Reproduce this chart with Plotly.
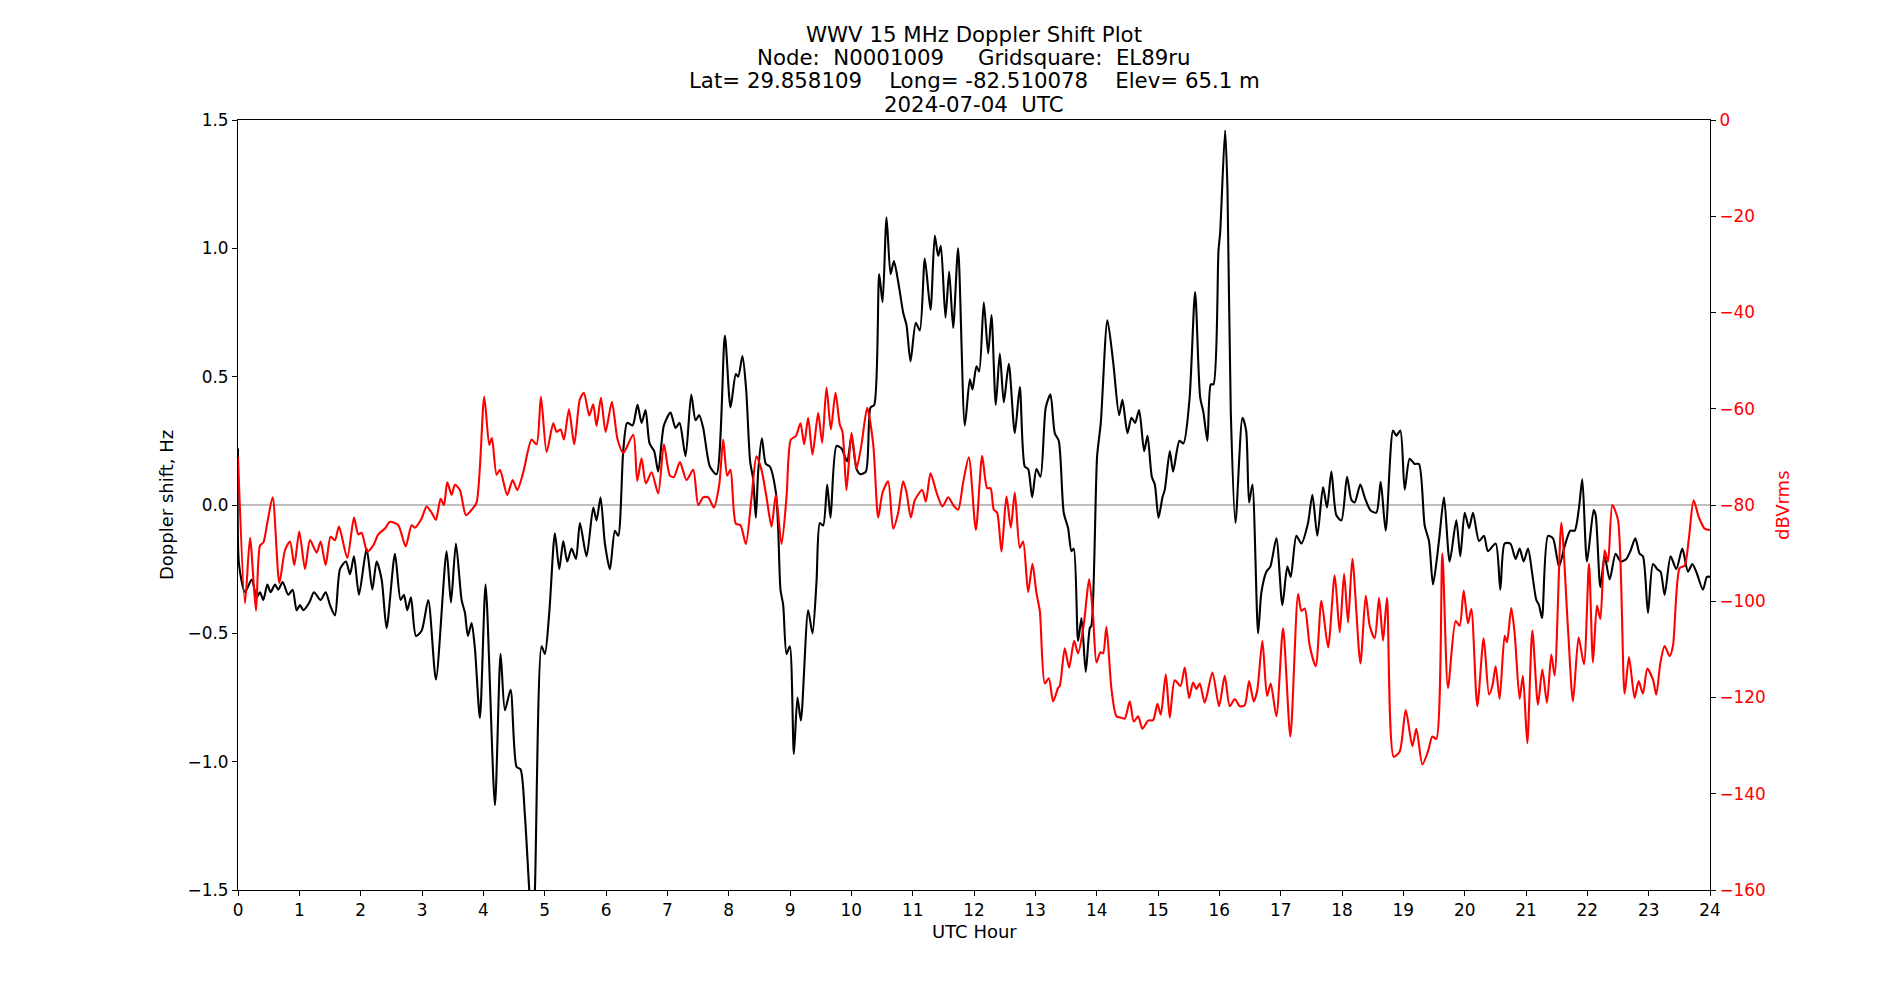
import plotly.graph_objects as go

# ---------------- data ----------------
doppler_hours = [0, 0.016, 0.114, 0.223, 0.304, 0.359, 0.413, 0.478, 0.532, 0.603, 0.657, 0.728, 0.820, 0.891,
                 0.956, 1.011, 1.065, 1.163, 1.239, 1.347, 1.429, 1.500, 1.581, 1.663, 1.760, 1.826, 1.891, 1.972,
                 2.097, 2.190, 2.260, 2.342, 2.423, 2.559, 2.651, 2.706, 2.760, 2.820, 2.901, 2.994, 3.102, 3.227,
                 3.401, 3.472, 3.553, 3.646, 3.700, 3.749, 3.809, 3.863, 3.944, 4.037, 4.189, 4.281, 4.352, 4.444,
                 4.542, 4.607, 4.678, 4.749, 4.803, 4.841, 4.950, 5.004, 5.075, 5.167, 5.238, 5.303, 5.368, 5.439,
                 5.510, 5.575, 5.683, 5.792, 5.846, 5.911, 5.982, 6.064, 6.145, 6.199, 6.281, 6.346, 6.433, 6.514,
                 6.580, 6.645, 6.710, 6.786, 6.851, 6.944, 7.052, 7.134, 7.199, 7.297, 7.390, 7.460, 7.520, 7.585,
                 7.694, 7.802, 7.938, 8.030, 8.117, 8.155, 8.225, 8.285, 8.350, 8.400, 8.443, 8.481, 8.541, 8.606,
                 8.671, 8.769, 8.807, 8.845, 8.889, 8.943, 8.997, 9.063, 9.122, 9.177, 9.296, 9.367, 9.432, 9.487,
                 9.541, 9.606, 9.661, 9.758, 9.840, 9.932, 10.003, 10.085, 10.150, 10.237, 10.313, 10.373, 10.454,
                 10.509, 10.574, 10.640, 10.694, 10.764, 10.845, 10.900, 10.965, 11.051, 11.117, 11.198, 11.291,
                 11.361, 11.416, 11.459, 11.535, 11.595, 11.660, 11.741, 11.850, 11.932, 11.975, 12.040, 12.084,
                 12.160, 12.231, 12.285, 12.355, 12.421, 12.486, 12.567, 12.665, 12.747, 12.828, 12.883, 12.948,
                 13.018, 13.084, 13.170, 13.246, 13.317, 13.382, 13.463, 13.534, 13.589, 13.627, 13.697, 13.752,
                 13.822, 13.888, 13.915, 14.007, 14.067, 14.175, 14.268, 14.366, 14.420, 14.502, 14.567, 14.627,
                 14.692, 14.774, 14.829, 14.899, 14.948, 15.008, 15.073, 15.111, 15.193, 15.246, 15.350, 15.415,
                 15.513, 15.605, 15.687, 15.741, 15.806, 15.861, 15.904, 15.986, 16.013, 16.094, 16.133, 16.187,
                 16.263, 16.377, 16.437, 16.485, 16.539, 16.632, 16.686, 16.767, 16.832, 16.930, 17.028, 17.109,
                 17.164, 17.256, 17.338, 17.446, 17.517, 17.598, 17.691, 17.756, 17.827, 17.908, 17.990, 18.082,
                 18.153, 18.207, 18.299, 18.370, 18.462, 18.560, 18.631, 18.712, 18.832, 18.886, 18.951, 19.022,
                 19.103, 19.185, 19.255, 19.348, 19.418, 19.484, 19.581, 19.663, 19.755, 19.864, 19.929, 20.000,
                 20.071, 20.136, 20.234, 20.315, 20.380, 20.505, 20.581, 20.652, 20.744, 20.831, 20.896, 20.962,
                 21.033, 21.103, 21.168, 21.212, 21.261, 21.358, 21.440, 21.538, 21.630, 21.723, 21.793, 21.864,
                 21.918, 21.994, 22.103, 22.136, 22.212, 22.282, 22.364, 22.461, 22.543, 22.636, 22.701, 22.782,
                 22.853, 22.907, 22.989, 23.070, 23.141, 23.195, 23.260, 23.358, 23.451, 23.548, 23.641, 23.711,
                 23.776, 23.885, 23.950, 24.0]
doppler_hz = [0.22, -0.23, -0.34, -0.29, -0.36, -0.34, -0.37, -0.31, -0.34, -0.31, -0.33, -0.30, -0.35, -0.33,
              -0.41, -0.39, -0.41, -0.38, -0.34, -0.37, -0.34, -0.39, -0.43, -0.25, -0.22, -0.27, -0.20, -0.35,
              -0.17, -0.33, -0.22, -0.29, -0.48, -0.19, -0.37, -0.35, -0.41, -0.36, -0.51, -0.49, -0.37, -0.68,
              -0.18, -0.38, -0.15, -0.37, -0.42, -0.51, -0.46, -0.56, -0.83, -0.31, -1.17, -0.58, -0.80, -0.72,
              -1.02, -1.03, -1.21, -1.50, -1.68, -1.50, -0.55, -0.58, -0.42, -0.11, -0.25, -0.14, -0.22, -0.17,
              -0.21, -0.07, -0.20, -0.01, -0.06, 0.03, -0.15, -0.25, -0.10, -0.12, 0.21, 0.32, 0.31, 0.39,
              0.32, 0.37, 0.24, 0.21, 0.13, 0.31, 0.36, 0.30, 0.32, 0.19, 0.43, 0.33, 0.35, 0.30,
              0.15, 0.12, 0.66, 0.38, 0.51, 0.50, 0.58, 0.45, 0.17, 0.10, -0.05, 0.13, 0.26, 0.16,
              0.15, 0.05, -0.09, -0.33, -0.39, -0.58, -0.55, -0.97, -0.75, -0.84, -0.41, -0.50, -0.30, -0.07,
              -0.08, 0.08, -0.05, 0.23, 0.22, 0.17, 0.27, 0.14, 0.12, 0.13, 0.38, 0.39, 0.90,
              0.79, 1.12, 0.90, 0.95, 0.87, 0.75, 0.70, 0.56, 0.71, 0.68, 0.96, 0.76,
              1.05, 0.97, 1.01, 0.73, 0.91, 0.69, 1.00, 0.31, 0.49, 0.45, 0.54, 0.52,
              0.79, 0.59, 0.74, 0.39, 0.59, 0.40, 0.55, 0.28, 0.46, 0.15, 0.14, 0.03,
              0.14, 0.11, 0.38, 0.43, 0.28, 0.25, -0.03, -0.09, -0.18, -0.17, -0.53, -0.44,
              -0.65, -0.48, -0.47, 0.19, 0.32, 0.72, 0.56, 0.35, 0.41, 0.28, 0.34, 0.32,
              0.37, 0.21, 0.27, 0.11, 0.08, -0.05, 0.03, 0.06, 0.21, 0.13, 0.25, 0.24,
              0.41, 0.83, 0.42, 0.36, 0.25, 0.47, 0.47, 0.99, 1.06, 1.46, 1.23, 0.36,
              -0.07, 0.34, 0.29, 0.01, 0.08, -0.50, -0.34, -0.26, -0.24, -0.13, -0.39, -0.24,
              -0.28, -0.12, -0.15, -0.07, 0.04, -0.12, 0.07, -0.01, 0.13, -0.04, -0.06, 0.11,
              0.02, 0.01, 0.08, 0.03, -0.02, -0.03, 0.09, -0.10, 0.29, 0.27, 0.29, 0.06,
              0.18, 0.16, 0.16, -0.08, -0.14, -0.31, -0.14, 0.03, -0.22, -0.06, -0.20, -0.03,
              -0.09, -0.03, -0.14, -0.12, -0.18, -0.15, -0.33, -0.15, -0.15, -0.21, -0.17, -0.22,
              -0.17, -0.27, -0.37, -0.39, -0.44, -0.12, -0.13, -0.24, -0.16, -0.10, -0.10, -0.01,
              0.10, -0.22, -0.02, -0.04, -0.32, -0.20, -0.29, -0.19, -0.22, -0.21, -0.18, -0.13,
              -0.19, -0.20, -0.42, -0.23, -0.25, -0.26, -0.35, -0.20, -0.25, -0.17, -0.26, -0.23,
              -0.26, -0.33, -0.28, -0.28]

power_hours = [0, 0.114, 0.196, 0.293, 0.359, 0.413, 0.478, 0.565, 0.674, 0.766, 0.848, 0.918, 0.999, 1.092,
               1.174, 1.282, 1.347, 1.429, 1.510, 1.581, 1.646, 1.782, 1.891, 1.961, 2.016, 2.108, 2.206, 2.287,
               2.396, 2.478, 2.613, 2.733, 2.831, 2.885, 2.994, 3.075, 3.157, 3.227, 3.303, 3.358, 3.412, 3.483,
               3.537, 3.618, 3.716, 3.809, 3.890, 4.015, 4.097, 4.140, 4.216, 4.271, 4.390, 4.477, 4.553, 4.651,
               4.787, 4.868, 4.939, 5.032, 5.140, 5.194, 5.260, 5.314, 5.396, 5.482, 5.575, 5.640, 5.727, 5.792,
               5.846, 5.917, 5.993, 6.096, 6.189, 6.281, 6.444, 6.509, 6.580, 6.650, 6.743, 6.851, 6.944, 7.042,
               7.107, 7.205, 7.313, 7.422, 7.504, 7.585, 7.667, 7.759, 7.846, 7.911, 7.976, 8.030, 8.117, 8.193,
               8.280, 8.373, 8.454, 8.536, 8.617, 8.699, 8.769, 8.862, 8.943, 9.014, 9.095, 9.171, 9.231, 9.296,
               9.367, 9.459, 9.524, 9.595, 9.666, 9.742, 9.812, 9.856, 9.921, 10.003, 10.085, 10.166, 10.259,
               10.357, 10.438, 10.509, 10.600, 10.682, 10.764, 10.845, 10.900, 10.970, 11.035, 11.155, 11.215,
               11.291, 11.389, 11.487, 11.579, 11.660, 11.741, 11.823, 11.916, 12.030, 12.133, 12.214, 12.270,
               12.323, 12.377, 12.448, 12.529, 12.600, 12.665, 12.747, 12.801, 12.883, 12.953, 13.018, 13.073,
               13.154, 13.220, 13.290, 13.372, 13.399, 13.480, 13.551, 13.632, 13.697, 13.790, 13.877, 13.942,
               13.997, 14.062, 14.105, 14.159, 14.241, 14.322, 14.404, 14.458, 14.540, 14.605, 14.676, 14.746,
               14.839, 14.920, 14.991, 15.045, 15.127, 15.192, 15.273, 15.366, 15.436, 15.507, 15.572, 15.627,
               15.681, 15.762, 15.887, 15.996, 16.088, 16.170, 16.252, 16.333, 16.414, 16.485, 16.561, 16.616,
               16.702, 16.778, 16.838, 16.930, 17.039, 17.158, 17.284, 17.338, 17.392, 17.474, 17.572, 17.664,
               17.773, 17.881, 17.963, 18.034, 18.099, 18.169, 18.300, 18.387, 18.452, 18.533, 18.604, 18.669,
               18.734, 18.843, 18.941, 19.039, 19.147, 19.212, 19.310, 19.402, 19.473, 19.538, 19.636, 19.728,
               19.853, 19.918, 19.984, 20.054, 20.109, 20.206, 20.310, 20.397, 20.451, 20.505, 20.570, 20.652,
               20.690, 20.760, 20.815, 20.896, 20.950, 21.021, 21.103, 21.195, 21.266, 21.342, 21.413, 21.467,
               21.576, 21.684, 21.766, 21.858, 21.945, 22.027, 22.092, 22.157, 22.212, 22.282, 22.337, 22.407,
               22.500, 22.608, 22.679, 22.771, 22.836, 22.907, 22.978, 23.070, 23.124, 23.190, 23.260, 23.342,
               23.396, 23.505, 23.586, 23.657, 23.733, 23.820, 23.912, 24.0]
power_dbv = [-70, -100.4, -86.8, -102, -88.4, -87.8, -83.7, -78.4, -96.2, -89.4, -87.6, -92.5, -85.5, -93.3,
             -87.3, -89.9, -87.6, -92.5, -86.6, -87.3, -84.5, -91, -82.6, -86.1, -85.8, -89.7, -88.4, -86.1,
             -84.9, -83.5, -84.2, -88.6, -84.2, -84.7, -82.8, -80.3, -81.6, -83.1, -78.7, -80, -75.3, -77.9,
             -75.8, -76.9, -82.1, -81, -79.5, -57.5, -67.5, -66.1, -73.7, -72.7, -77.9, -74.8, -76.9, -73.2,
             -66.4, -67.4, -57.5, -69, -63, -64.8, -64.3, -66.4, -60.1, -67.4, -58, -56.7, -61.4, -59.1,
             -63.6, -57.7, -64.8, -58.6, -66.4, -69.2, -65.4, -75, -70.3, -75.5, -73.2, -77.6, -67.4, -73.9,
             -74.2, -71.1, -74.8, -72.7, -80, -78.4, -78.4, -80.5, -75.8, -66.4, -73.9, -72.7, -83.9, -84.2,
             -88.1, -78.4, -69.9, -72.7, -78.4, -84.5, -77.9, -88.1, -78.4, -66.4, -65.7, -63, -67.4, -61.9,
             -69.5, -60.9, -67.1, -55.6, -64.3, -56.7, -63.3, -64.8, -76.9, -65, -72.4, -67.4, -59.8,
             -67.4, -82.6, -77.4, -75.1, -84.9, -81.6, -75.1, -77.4, -82.6, -79, -76.9, -79.3,
             -73.4, -77.4, -80.3, -78.4, -80, -81, -75.3, -70.1, -85.2, -69.8, -76.5, -76.5,
             -81, -81.6, -89.7, -78.2, -84.7, -77.4, -88.9, -87.6, -98.1, -92.2, -98.3, -102,
             -117.1, -116, -120.8, -118, -117.6, -109.8, -113.8, -108.2, -110.8, -104.8, -95.4, -103.3,
             -112.7, -110.6, -110.8, -105.3, -118.2, -123.9, -124.2, -124.4, -120.8, -125, -123.9, -126.5,
             -124.8, -124.7, -121.3, -123.6, -115.2, -124.2, -116.4, -117.6, -113.8, -120.1, -116.9, -118.2,
             -117.1, -121.1, -114.8, -121.8, -115.5, -121.8, -120.3, -121.8, -121.6, -116.6, -120.8, -118.7,
             -108.2, -119.7, -117.1, -123.9, -105.6, -128.1, -98.5, -102, -101.5, -109.3, -113.5, -99.9,
             -109.6, -94.6, -106.5, -94.3, -104.4, -91.2, -112.9, -98.8, -105.1, -107.7, -99.3, -108.2,
             -99.3, -132.3, -131.2, -122.6, -130.1, -126.5, -133.9, -131.2, -128.1, -128.6, -90.1, -118,
             -104.1, -105.1, -97.8, -104.6, -101.6, -121.8, -107.7, -119.4, -117.6, -113.5, -120.3, -107.2,
             -108.5, -101.4, -106.7, -120.3, -115.5, -129.5, -106.1, -121.5, -114.2, -121.1, -111.1, -115.4,
             -83.7, -105.6, -120.8, -107.5, -113.1, -92.2, -112.7, -100.9, -103.7, -89.4, -91.8, -80,
             -83.1, -119.2, -111.6, -120.1, -116.6, -119.2, -114, -116.3, -119.4, -112.9, -109.3, -111.4,
             -109.3, -93.1, -92.6, -86.8, -79, -82.6, -84.9, -85.2]

x_ticks = list(range(0, 25))
title_lines = ["WWV 15 MHz Doppler Shift Plot",
               "Node:  N0001009     Gridsquare:  EL89ru",
               "Lat= 29.858109    Long= -82.510078    Elev= 65.1 m",
               "2024-07-04  UTC"]

# ---------------- figure ----------------
FONT = "DejaVu Sans"
W, H = 1900, 1000
L, R, T, B = 238, 190, 120, 110
plot_h = H - T - B
plot_w = W - L - R

fig = go.Figure()
fig.add_trace(go.Scatter(x=doppler_hours, y=doppler_hz, mode="lines",
                         line=dict(color="black", width=2.1, shape="spline", smoothing=0.7),
                         yaxis="y", showlegend=False))
fig.add_trace(go.Scatter(x=power_hours, y=power_dbv, mode="lines",
                         line=dict(color="red", width=2.1, shape="spline", smoothing=0.7),
                         yaxis="y2", showlegend=False))

fig.add_shape(type="line", xref="x domain", x0=0, x1=1, yref="y", y0=0, y1=0,
              line=dict(color="#808080", width=1.2), layer="below")

ann = []
title_px = [34, 57.5, 80.5, 104.5]
for txt, ypx in zip(title_lines, title_px):
    ann.append(dict(text=txt.replace("  ", "&nbsp; "), xref="paper", yref="paper", x=0.5,
                    y=(H - B - ypx) / plot_h,
                    xanchor="center", yanchor="middle", showarrow=False,
                    font=dict(family=FONT, size=21.3, color="black")))
ann.append(dict(text="Doppler shift, Hz", xref="paper", yref="paper", x=(166 - L) / plot_w, y=0.5,
                xanchor="center", yanchor="middle", textangle=-90, showarrow=False,
                font=dict(family=FONT, size=18, color="black")))
ann.append(dict(text="dBVrms", xref="paper", yref="paper", x=(1782 - L) / plot_w, y=0.5,
                xanchor="center", yanchor="middle", textangle=-90, showarrow=False,
                font=dict(family=FONT, size=18, color="red")))
ann.append(dict(text="UTC Hour", xref="paper", yref="paper", x=0.5, y=(H - B - 931) / plot_h,
                xanchor="center", yanchor="middle", showarrow=False,
                font=dict(family=FONT, size=18, color="black")))

fig.update_layout(
    width=W, height=H,
    margin=dict(l=L, r=R, t=T, b=B),
    paper_bgcolor="white", plot_bgcolor="white",
    font=dict(family=FONT, size=16.67, color="black"),
    annotations=ann,
    xaxis=dict(range=[0, 24], tickvals=x_ticks, ticks="outside", ticklen=5, tickwidth=1,
               tickcolor="black", showline=True, linecolor="black", linewidth=1.1, mirror=True,
               showgrid=False, zeroline=False, tickfont=dict(size=16.9, color="black")),
    yaxis=dict(range=[-1.5, 1.5], dtick=0.5, tick0=0, tickformat=".1f", ticks="outside", ticklen=5,
               tickwidth=1, tickcolor="black", showline=True, linecolor="black", linewidth=1.1,
               showgrid=False, zeroline=False, tickfont=dict(size=16.9, color="black")),
    yaxis2=dict(range=[-160, 0], dtick=20, tick0=0, overlaying="y", side="right", ticks="outside",
                ticklen=5, tickwidth=1, tickcolor="black", showline=True, linecolor="black",
                linewidth=1.1, showgrid=False, zeroline=False,
                tickfont=dict(size=16.9, color="red")),
)

fig.write_html("out.html")
